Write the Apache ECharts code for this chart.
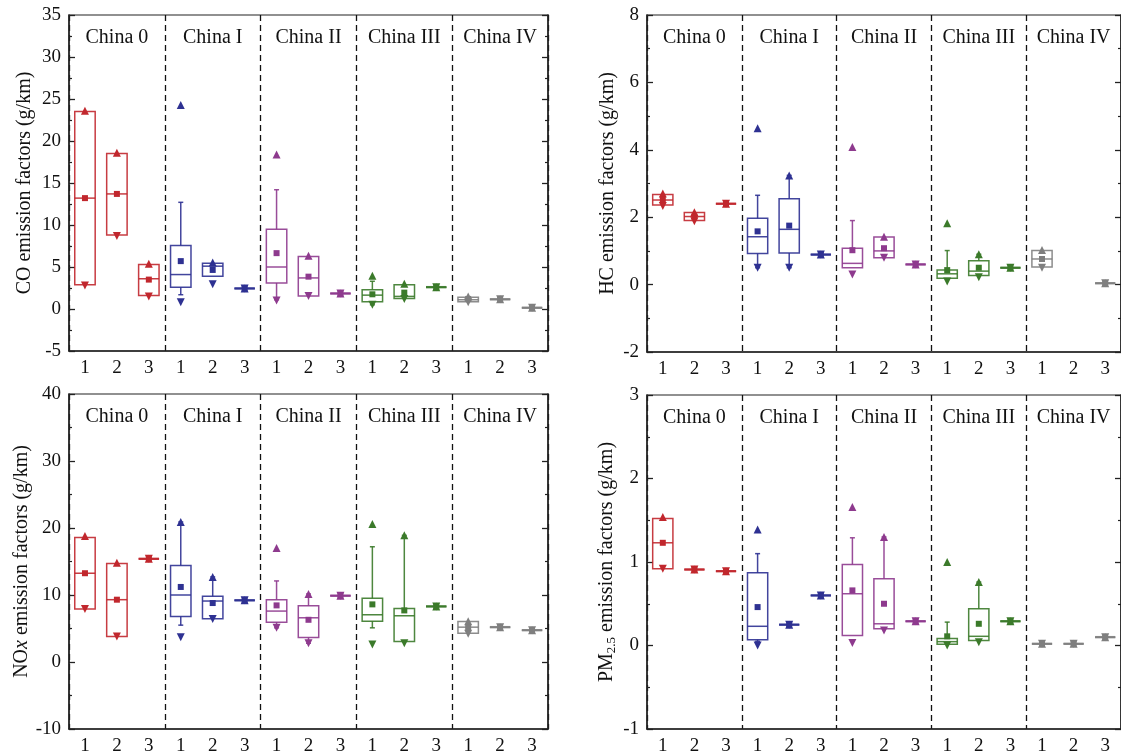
<!DOCTYPE html>
<html>
<head>
<meta charset="utf-8">
<script src="https://cdn.jsdelivr.net/npm/echarts@6/dist/echarts.min.js"></script>
<style>
  html, body { margin: 0; padding: 0; background: #fff; }
  #chart { width: 1121px; height: 756px; }
</style>
</head>
<body>
<div id="chart"></div>
<script>
// categories: 3 sub-groups inside each emission standard
const categories = ["1", "2", "3", "1", "2", "3", "1", "2", "3", "1", "2", "3", "1", "2", "3"];
const groups = ["China 0", "China I", "China II", "China III", "China IV"];
const groupColors = ["#C1272D", "#2E3192", "#8E3A8E", "#3B7A2A", "#7F7F7F"];

// CO (g/km)
const coWLo  = [2.9, 8.8, 1.6, 1.7, 3.9, 2.45, 1.1, 1.55, 1.85, 0.5, 1.25, 2.6, 0.85, 1.15, 0.15];
const coQ1   = [2.9, 8.8, 1.6, 2.6, 3.9, 2.45, 3.1, 1.55, 1.85, 0.85, 1.25, 2.6, 0.85, 1.15, 0.15];
const coMed  = [13.2, 13.7, 3.6, 4.1, 5.1, 2.45, 5.0, 3.7, 1.85, 1.65, 1.5, 2.6, 1.1, 1.15, 0.15];
const coQ3   = [23.5, 18.5, 5.3, 7.55, 5.45, 2.45, 9.5, 6.25, 1.85, 2.3, 2.9, 2.6, 1.4, 1.15, 0.15];
const coWHi  = [23.5, 18.5, 5.3, 12.7, 5.45, 2.45, 14.2, 6.25, 1.85, 3.3, 2.9, 2.6, 1.4, 1.15, 0.15];
const coMean = [13.2, 13.7, 3.5, 5.7, 4.65, 2.45, 6.65, 3.85, 1.85, 1.75, 1.95, 2.6, 1.2, 1.15, 0.15];
const coMax  = [23.6, 18.6, 5.4, 24.3, 5.55, 2.45, 18.4, 6.35, 1.85, 3.95, 3.0, 2.6, 1.5, 1.15, 0.15];
const coMin  = [2.8, 8.7, 1.5, 0.8, 2.95, 2.45, 1.0, 1.55, 1.85, 0.5, 1.2, 2.6, 0.8, 1.15, 0.15];

// HC (g/km)
const hcWLo  = [2.36, 1.9, 2.4, 0.5, 0.5, 0.89, 0.5, 0.8, 0.6, 0.19, 0.27, 0.5, 0.52, null, 0.04];
const hcQ1   = [2.36, 1.9, 2.4, 0.92, 0.94, 0.89, 0.5, 0.8, 0.6, 0.19, 0.27, 0.5, 0.52, null, 0.04];
const hcMed  = [2.51, 2.02, 2.4, 1.42, 1.64, 0.89, 0.63, 1.0, 0.6, 0.32, 0.4, 0.5, 0.76, null, 0.04];
const hcQ3   = [2.67, 2.14, 2.4, 1.97, 2.55, 0.89, 1.08, 1.41, 0.6, 0.43, 0.71, 0.5, 1.01, null, 0.04];
const hcWHi  = [2.67, 2.14, 2.4, 2.65, 3.24, 0.89, 1.9, 1.41, 0.6, 1.01, 0.9, 0.5, 1.01, null, 0.04];
const hcMean = [2.53, 2.02, 2.4, 1.58, 1.75, 0.89, 1.02, 1.08, 0.6, 0.43, 0.5, 0.5, 0.76, null, 0.04];
const hcMax  = [2.7, 2.15, 2.4, 4.64, 3.24, 0.89, 4.08, 1.42, 0.6, 1.82, 0.9, 0.5, 1.03, null, 0.04];
const hcMin  = [2.33, 1.88, 2.4, 0.5, 0.5, 0.89, 0.3, 0.8, 0.6, 0.09, 0.22, 0.5, 0.5, null, 0.04];

// NOx (g/km)
const noWLo  = [7.9, 3.8, 15.4, 5.5, 6.45, 9.2, 5.1, 2.8, 9.9, 5.1, 3.06, 8.3, 4.3, 5.2, 4.75];
const noQ1   = [7.9, 3.8, 15.4, 6.8, 6.45, 9.2, 5.95, 3.66, 9.9, 6.1, 3.06, 8.3, 4.3, 5.2, 4.75];
const noMed  = [13.25, 9.3, 15.4, 10.0, 9.1, 9.2, 7.6, 6.6, 9.9, 7.05, 6.9, 8.3, 5.2, 5.2, 4.75];
const noQ3   = [18.6, 14.7, 15.4, 14.4, 9.8, 9.2, 9.3, 8.4, 9.9, 9.5, 8.0, 8.3, 6.05, 5.2, 4.75];
const noWHi  = [18.6, 14.7, 15.4, 20.9, 12.7, 9.2, 12.1, 10.15, 9.9, 17.2, 18.9, 8.3, 6.05, 5.2, 4.75];
const noMean = [13.25, 9.3, 15.4, 11.2, 8.8, 9.2, 8.45, 6.3, 9.9, 8.6, 7.7, 8.3, 5.2, 5.2, 4.75];
const noMax  = [18.8, 14.8, 15.4, 20.9, 12.7, 9.2, 17.0, 10.15, 9.9, 20.6, 18.9, 8.3, 6.1, 5.2, 4.75];
const noMin  = [7.9, 3.8, 15.4, 3.7, 6.4, 9.2, 5.1, 2.8, 9.9, 2.6, 2.8, 8.3, 4.2, 5.2, 4.75];

// PM2.5 (g/km)
const pmWLo  = [0.92, 0.91, 0.89, 0.05, 0.25, 0.6, 0.12, 0.2, 0.29, 0.015, 0.06, 0.29, 0.02, 0.02, 0.1];
const pmQ1   = [0.92, 0.91, 0.89, 0.07, 0.25, 0.6, 0.12, 0.2, 0.29, 0.015, 0.06, 0.29, 0.02, 0.02, 0.1];
const pmMed  = [1.23, 0.91, 0.89, 0.23, 0.25, 0.6, 0.62, 0.26, 0.29, 0.046, 0.11, 0.29, 0.02, 0.02, 0.1];
const pmQ3   = [1.52, 0.91, 0.89, 0.87, 0.25, 0.6, 0.97, 0.80, 0.29, 0.085, 0.44, 0.29, 0.02, 0.02, 0.1];
const pmWHi  = [1.52, 0.91, 0.89, 1.10, 0.25, 0.6, 1.29, 1.30, 0.29, 0.28, 0.76, 0.29, 0.02, 0.02, 0.1];
const pmMean = [1.23, 0.91, 0.89, 0.46, 0.25, 0.6, 0.66, 0.5, 0.29, 0.11, 0.26, 0.29, 0.02, 0.02, 0.1];
const pmMax  = [1.54, 0.91, 0.89, 1.39, 0.25, 0.6, 1.66, 1.30, 0.29, 1.0, 0.76, 0.29, 0.02, 0.02, 0.1];
const pmMin  = [0.92, 0.91, 0.89, 0.0, 0.25, 0.6, 0.03, 0.18, 0.29, 0.0, 0.04, 0.29, 0.02, 0.02, 0.1];

const FONT = "'Liberation Serif', 'Times New Roman', serif";

const panels = [
  { name: "CO emission factors (g/km)", min: -5, max: 35, interval: 5, gap: 34,
    grid: { left: 69, top: 15, width: 479, height: 336 },
    d: [coWLo, coQ1, coMed, coQ3, coWHi], mean: coMean, hi: coMax, lo: coMin },
  { name: "HC emission factors (g/km)", min: -2, max: 8, interval: 2, gap: 29,
    grid: { left: 647, top: 15, width: 476, height: 337 },
    d: [hcWLo, hcQ1, hcMed, hcQ3, hcWHi], mean: hcMean, hi: hcMax, lo: hcMin },
  { name: "NO{it|x} emission factors (g/km)", min: -10, max: 40, interval: 10, gap: 34,
    grid: { left: 69, top: 394, width: 479, height: 337 },
    d: [noWLo, noQ1, noMed, noQ3, noWHi], mean: noMean, hi: noMax, lo: noMin },
  { name: "PM{sub|2.5} emission factors (g/km)", min: -1, max: 3, interval: 1, gap: 29,
    grid: { left: 647, top: 395, width: 476, height: 336 },
    d: [pmWLo, pmQ1, pmMed, pmQ3, pmWHi], mean: pmMean, hi: pmMax, lo: pmMin }
];

function colorOf(k) {
  return groupColors[Math.floor(k / 3)];
}

function renderBox(params, api) {
  const k = api.value(0);
  const color = colorOf(k);
  const bw = api.size([1, 0])[0] * 0.64;
  const pLo = api.coord([k, api.value(1)]);
  const pQ1 = api.coord([k, api.value(2)]);
  const pMed = api.coord([k, api.value(3)]);
  const pQ3 = api.coord([k, api.value(4)]);
  const pHi = api.coord([k, api.value(5)]);
  const cx = pMed[0];
  const st = { stroke: color, lineWidth: 1.5, opacity: 0.9 };
  const children = [];
  if (pHi[1] < pQ3[1] - 0.5) {
    children.push({ type: "line", shape: { x1: cx, y1: pQ3[1], x2: cx, y2: pHi[1] }, style: st });
    children.push({ type: "line", shape: { x1: cx - 2.5, y1: pHi[1], x2: cx + 2.5, y2: pHi[1] }, style: st });
  }
  if (pLo[1] > pQ1[1] + 0.5) {
    children.push({ type: "line", shape: { x1: cx, y1: pQ1[1], x2: cx, y2: pLo[1] }, style: st });
    children.push({ type: "line", shape: { x1: cx - 2.5, y1: pLo[1], x2: cx + 2.5, y2: pLo[1] }, style: st });
  }
  const h = pQ1[1] - pQ3[1];
  children.push({
    type: "rect",
    shape: { x: cx - bw / 2, y: pQ3[1], width: bw, height: Math.max(h, 0) },
    style: Object.assign({}, st, { fill: "none" })
  });
  children.push({
    type: "line",
    shape: { x1: cx - bw / 2, y1: pMed[1], x2: cx + bw / 2, y2: pMed[1] },
    style: Object.assign({}, st, { lineWidth: h < 1 ? 2.4 : 1.5 })
  });
  return { type: "group", children: children };
}

function points(arr) {
  const out = [];
  arr.forEach(function (v, k) {
    if (v != null) out.push([k, v]);
  });
  return out;
}

const grids = [];
const xAxes = [];
const yAxes = [];
const series = [];

panels.forEach(function (p, i) {
  grids.push(Object.assign({ show: true, borderColor: "#222", borderWidth: 1.2, backgroundColor: "#fff" }, p.grid));

  xAxes.push({
    type: "category", gridIndex: i, position: "bottom", data: categories,
    axisLine: { onZero: false, lineStyle: { color: "#222", width: 1.5 } },
    axisTick: { alignWithLabel: true, length: 6, lineStyle: { color: "#222", width: 1.3 } },
    axisLabel: { interval: 0, fontFamily: FONT, fontSize: 19, color: "#111", margin: 8 },
    splitLine: { show: false }
  });
  xAxes.push({
    type: "category", gridIndex: i, position: "top", data: groups,
    axisLine: { show: false, onZero: false }, axisTick: { show: false, interval: 0 },
    axisLabel: { inside: true, interval: 0, margin: 13, fontFamily: FONT, fontSize: 20, color: "#111", verticalAlign: "top" },
    splitLine: { show: true, interval: 0, lineStyle: { color: "#111", width: 1.3, type: [6, 4] } }
  });

  yAxes.push({
    type: "value", gridIndex: i, position: "left",
    min: p.min, max: p.max, interval: p.interval,
    name: p.name, nameLocation: "middle", nameGap: p.gap,
    nameTextStyle: {
      fontFamily: FONT, fontSize: 20, color: "#111",
      rich: {
        it: { fontFamily: FONT, fontSize: 20, fontStyle: "italic", color: "#111" },
        sub: { fontFamily: FONT, fontSize: 13, color: "#111", verticalAlign: "bottom", padding: [9, 0, 0, 0] }
      }
    },
    axisLine: { show: true, onZero: false, lineStyle: { color: "#222", width: 1.5 } },
    axisTick: { show: true, inside: true, length: 6, lineStyle: { color: "#222", width: 1.3 } },
    minorTick: { show: true, splitNumber: 2, length: 3, lineStyle: { color: "#222", width: 1.2 } },
    axisLabel: { fontFamily: FONT, fontSize: 19, color: "#111", margin: 8 },
    splitLine: { show: false }
  });
  yAxes.push({
    type: "value", gridIndex: i, position: "right",
    min: p.min, max: p.max, interval: p.interval,
    axisLine: { show: true, onZero: false, lineStyle: { color: "#222", width: 1.5 } },
    axisTick: { show: true, inside: true, length: 6, lineStyle: { color: "#222", width: 1.3 } },
    minorTick: { show: true, splitNumber: 2, length: 3, lineStyle: { color: "#222", width: 1.2 } },
    axisLabel: { show: false },
    splitLine: { show: false }
  });

  const boxData = [];
  categories.forEach(function (c, k) {
    if (p.d[2][k] == null) return;
    boxData.push([k, p.d[0][k], p.d[1][k], p.d[2][k], p.d[3][k], p.d[4][k]]);
  });

  series.push({
    type: "custom", xAxisIndex: 2 * i, yAxisIndex: 2 * i,
    renderItem: renderBox,
    encode: { x: 0, y: [1, 2, 3, 4, 5] },
    data: boxData, z: 3, silent: true
  });

  const pointColor = function (q) { return colorOf(q.value[0]); };
  series.push({
    type: "scatter", xAxisIndex: 2 * i, yAxisIndex: 2 * i,
    symbol: "triangle", symbolSize: 8,
    itemStyle: { color: pointColor, opacity: 1 },
    data: points(p.hi), z: 4, silent: true
  });
  series.push({
    type: "scatter", xAxisIndex: 2 * i, yAxisIndex: 2 * i,
    symbol: "triangle", symbolRotate: 180, symbolSize: 8,
    itemStyle: { color: pointColor, opacity: 1 },
    data: points(p.lo), z: 4, silent: true
  });
  series.push({
    type: "scatter", xAxisIndex: 2 * i, yAxisIndex: 2 * i,
    symbol: "rect", symbolSize: 6,
    itemStyle: { color: pointColor, opacity: 1 },
    data: points(p.mean), z: 5, silent: true
  });
});

const chart = echarts.init(document.getElementById("chart"), null, { renderer: "canvas" });
chart.setOption({
  backgroundColor: "#fff",
  animation: false,
  grid: grids,
  xAxis: xAxes,
  yAxis: yAxes,
  series: series
});
</script>
</body>
</html>
